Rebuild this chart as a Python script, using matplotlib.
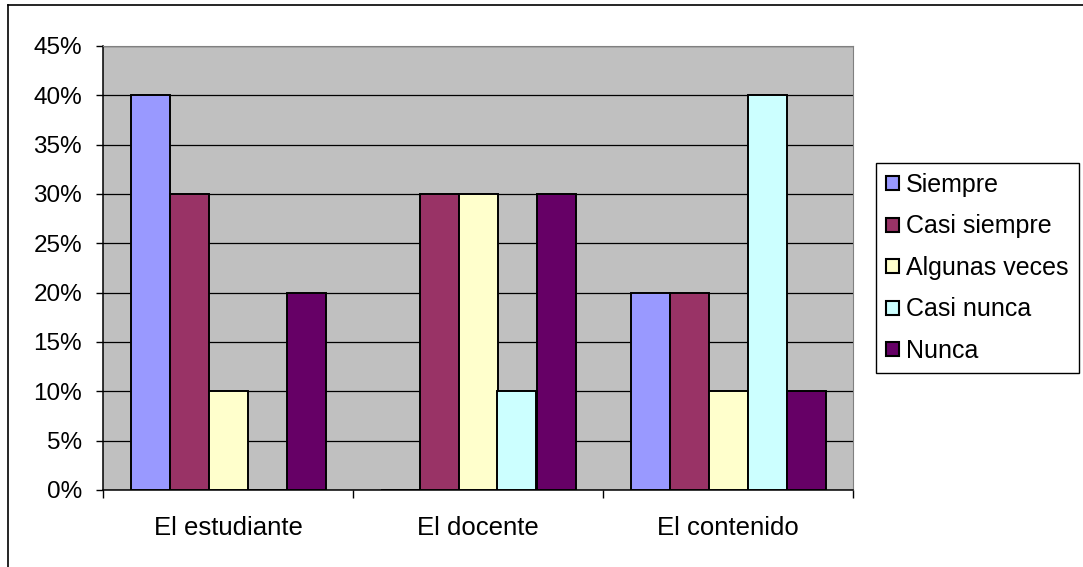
import matplotlib
matplotlib.use('Agg')
import matplotlib.pyplot as plt
from matplotlib.lines import Line2D
import numpy as np

plt.rcParams['font.family'] = ['Liberation Sans', 'DejaVu Sans']

# Chart data (percent)
categories = ['El estudiante', 'El docente', 'El contenido']
series_names = ['Siempre', 'Casi siempre', 'Algunas veces', 'Casi nunca', 'Nunca']
siempre = [40, 0, 20]
casi_siempre = [30, 30, 20]
algunas_veces = [10, 30, 10]
casi_nunca = [0, 10, 40]
nunca = [20, 30, 10]
y_ticks = [0, 5, 10, 15, 20, 25, 30, 35, 40, 45]

series_values = [siempre, casi_siempre, algunas_veces, casi_nunca, nunca]
colors = ['#9999FF', '#993366', '#FFFFCC', '#CCFFFF', '#660066']

fig = plt.figure(figsize=(10.83, 5.67), dpi=100)
ax = fig.add_axes([103 / 1083, 1 - 490 / 567, 750 / 1083, 444 / 567])
ax.set_facecolor('#C0C0C0')

x = np.arange(len(categories))
width = 0.156
for i, (name, vals) in enumerate(zip(series_names, series_values)):
    ax.bar(x + (i - 2) * width, vals, width, color=colors[i],
           edgecolor='black', linewidth=1.4, label=name, zorder=3)

ax.set_xlim(-0.5, len(categories) - 0.5)
ax.set_ylim(0, 45)
ax.set_yticks(y_ticks)
ax.set_yticklabels(['%d%%' % v for v in y_ticks])
ax.yaxis.grid(True, color='black', linewidth=0.9, zorder=1)
ax.set_axisbelow(True)

# group boundary ticks, labels centred on groups
ax.set_xticks(np.arange(len(categories) + 1) - 0.5)
ax.set_xticklabels([])
ax.set_xticks(x, minor=True)
ax.set_xticklabels(categories, minor=True)
ax.tick_params(axis='x', which='major', direction='out', length=6,
               width=1, color='black')
ax.tick_params(axis='x', which='minor', length=0, pad=19, labelsize=18.5)
ax.tick_params(axis='y', direction='out', length=5, width=1,
               pad=10, labelsize=17.5)

for s in ['top', 'right']:
    ax.spines[s].set_color('#808080')
for s in ['left', 'bottom']:
    ax.spines[s].set_color('black')
    ax.spines[s].set_linewidth(1.1)

leg = ax.legend(loc='upper left', bbox_to_anchor=(876 / 1083, 1 - 163 / 567),
                bbox_transform=fig.transFigure, fontsize=18,
                fancybox=False, shadow=False, framealpha=1,
                edgecolor='black', handlelength=0.5, handleheight=0.5,
                handletextpad=0.3, labelspacing=0.7, borderpad=0.4,
                borderaxespad=0)
leg.get_frame().set_linewidth(1)
for h in leg.legend_handles:
    h.set_linewidth(1.5)

# outer chart border (cropped at right and bottom)
fig.add_artist(Line2D([8 / 1083, 8 / 1083], [0, 1 - 5 / 567],
                      color='black', linewidth=1.2))
fig.add_artist(Line2D([8 / 1083, 1], [1 - 5 / 567, 1 - 5 / 567],
                      color='black', linewidth=1.2))

fig.savefig('out.png', dpi=100)
